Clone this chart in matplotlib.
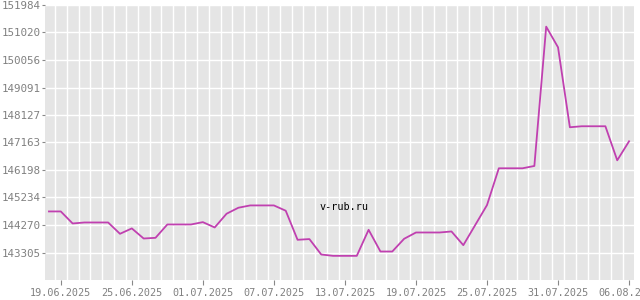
import matplotlib
matplotlib.use("Agg")
import matplotlib.pyplot as plt
import datetime as dt

dates = ["2025-06-18", "2025-06-19", "2025-06-20", "2025-06-21", "2025-06-22", "2025-06-23",
         "2025-06-24", "2025-06-25", "2025-06-26", "2025-06-27", "2025-06-28", "2025-06-29",
         "2025-06-30", "2025-07-01", "2025-07-02", "2025-07-03", "2025-07-04", "2025-07-05",
         "2025-07-06", "2025-07-07", "2025-07-08", "2025-07-09", "2025-07-10", "2025-07-11",
         "2025-07-12", "2025-07-13", "2025-07-14", "2025-07-15", "2025-07-16", "2025-07-17",
         "2025-07-18", "2025-07-19", "2025-07-20", "2025-07-21", "2025-07-22", "2025-07-23",
         "2025-07-24", "2025-07-25", "2025-07-26", "2025-07-27", "2025-07-28", "2025-07-29",
         "2025-07-30", "2025-07-31", "2025-08-01", "2025-08-02", "2025-08-03", "2025-08-04",
         "2025-08-05", "2025-08-06"]
values = [144745, 144745, 144323, 144358, 144358, 144358,
          143961, 144150, 143796, 143820, 144288, 144288,
          144288, 144370, 144183, 144664, 144875, 144956,
          144956, 144956, 144770, 143751, 143776, 143235,
          143188, 143188, 143188, 144101, 143340, 143340,
          143786, 144007, 144007, 144007, 144043, 143562,
          144265, 144968, 146258, 146258, 146258, 146340,
          151225, 150500, 147697, 147732, 147732, 147732,
          146538, 147205]
y_ticks = [143305, 144270, 145234, 146198, 147163, 148127, 149091, 150056, 151020, 151984]
x_tick_dates = ["2025-06-19", "2025-06-25", "2025-07-01", "2025-07-07", "2025-07-13",
                "2025-07-19", "2025-07-25", "2025-07-31", "2025-08-06"]
y_min, y_max = 142341, 151984
watermark = "v-rub.ru"

x = [dt.datetime.strptime(d, "%Y-%m-%d") for d in dates]
xt = [dt.datetime.strptime(d, "%Y-%m-%d") for d in x_tick_dates]

fig = plt.figure(figsize=(6.4, 3.0), dpi=100)
ax = fig.add_axes([45/640, 1 - 280/300, (634 - 45)/640, (280 - 5)/300])
ax.set_facecolor("#e5e5e5")
for s in ax.spines.values():
    s.set_visible(False)

# vertical grid lines at half-days
grid_x = [x[0] - dt.timedelta(hours=12) + dt.timedelta(days=i) for i in range(len(x) + 2)]
for g in grid_x:
    ax.axvline(g, color="white", lw=1.0, zorder=1)
for t in y_ticks:
    ax.axhline(t, color="white", lw=1.0, zorder=1)

ax.plot(x, values, color="#c040b0", lw=1.3, zorder=3)

ax.set_xlim(x[0] - dt.timedelta(hours=8), x[-1] + dt.timedelta(hours=10))
ax.set_ylim(y_min, y_max)
ax.set_yticks(y_ticks)
ax.set_yticklabels([str(v) for v in y_ticks])
ax.set_xticks(xt)
ax.set_xticklabels([d.strftime("%d.%m.%Y") for d in xt])
ax.tick_params(axis="y", colors="#888888", labelcolor="#808080", labelsize=7.8,
               length=2, width=0.8, pad=1)
ax.tick_params(axis="x", colors="#888888", labelcolor="#808080", labelsize=7.3,
               length=3.5, width=0.8, pad=2.5)
for lbl in ax.get_xticklabels() + ax.get_yticklabels():
    lbl.set_family("DejaVu Sans Mono")

ax.text(0.507, 0.264, watermark, transform=ax.transAxes, ha="center", va="center",
        fontsize=7.3, family="DejaVu Sans Mono", color="black", zorder=4)

fig.savefig("out.png", dpi=100)
